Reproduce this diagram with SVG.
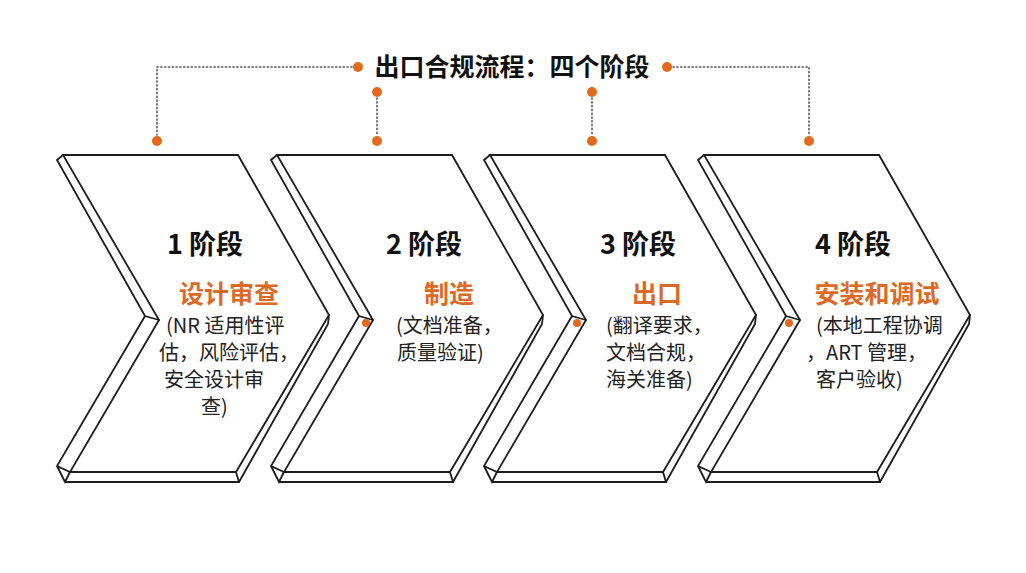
<svg xmlns="http://www.w3.org/2000/svg" width="1026" height="573" viewBox="0 0 1026 573">
<style>
.ln{fill:none;stroke:#1c1c1c;stroke-width:1.8;stroke-linejoin:miter;stroke-linecap:round}
.face{fill:#fff;stroke:#1c1c1c;stroke-width:1.8;stroke-linejoin:miter}
.dot{fill:#E2691E}
.dash{fill:none;stroke:#555;stroke-width:1.6;stroke-dasharray:1.2 2.6;stroke-linecap:round}
.title{font-family:"Noto Sans CJK SC","Noto Sans",sans-serif;font-weight:700;font-size:25px;fill:#111}
.stage{font-family:"Noto Sans CJK SC","Noto Sans",sans-serif;font-weight:700;font-size:27px;fill:#111;text-anchor:middle}
.sub{font-family:"Noto Sans CJK SC","Noto Sans",sans-serif;font-weight:700;font-size:25px;fill:#DB6A27;text-anchor:middle}
.body{font-family:"Noto Sans CJK SC","Noto Sans",sans-serif;font-size:20px;fill:#222}
</style>
<defs>
<g id="chev">
<path class="face" d="M63,155 L238,155 L329,315 L236,472 L70,472 L159,320 Z"/>
<path class="ln" d="M63,155 L57,160 L145,316 L159,320 M145,316 L57,466 L70,472 M57,466 L65,482 L70,472 M65,482 L239,482 L236,472 M329,315 L328,324 L239,482"/>
</g>
</defs>
<rect width="1026" height="573" fill="#fff"/>

<g id="connectors">
<path class="dash" d="M352,67 L157,67 L157,135"/>
<path class="dash" d="M673,67 L809,67 L809,135"/>
<path class="dash" d="M377,98 L377,135"/>
<path class="dash" d="M592,98 L592,135"/>
<circle class="dot" cx="358" cy="67" r="5"/>
<circle class="dot" cx="667" cy="67" r="5"/>
<circle class="dot" cx="157" cy="141" r="5"/>
<circle class="dot" cx="377" cy="92" r="5"/>
<circle class="dot" cx="377" cy="141" r="5"/>
<circle class="dot" cx="592" cy="92" r="5"/>
<circle class="dot" cx="592" cy="141" r="5"/>
<circle class="dot" cx="809" cy="141" r="5"/>
</g>

<g id="title">
<text class="title" x="512" y="76" text-anchor="middle">出口合规流程：四个阶段</text>
</g>

<g id="stage1">
<use href="#chev"/>
<text class="stage" x="205" y="254">1 阶段</text>
<text class="sub" x="229" y="303">设计审查</text>
<text class="body" x="166" y="333">(NR 适用性评</text>
<text class="body" x="159" y="360">估，风险评估，</text>
<text class="body" x="164" y="387">安全设计审</text>
<text class="body" x="201" y="414">查)</text>
</g>

<g id="stage2">
<use href="#chev" transform="translate(214,0)"/>
<circle class="dot" cx="366" cy="323" r="4"/>
<text class="stage" x="424" y="254">2 阶段</text>
<text class="sub" x="449" y="303">制造</text>
<text class="body" x="396" y="333">(文档准备，</text>
<text class="body" x="397" y="360">质量验证)</text>
</g>

<g id="stage3">
<use href="#chev" transform="translate(427,0)"/>
<circle class="dot" cx="577" cy="323" r="4"/>
<text class="stage" x="638" y="254">3 阶段</text>
<text class="sub" x="657" y="303">出口</text>
<text class="body" x="606" y="333">(翻译要求，</text>
<text class="body" x="606" y="360">文档合规，</text>
<text class="body" x="606" y="387">海关准备)</text>
</g>

<g id="stage4">
<use href="#chev" transform="translate(641,0)"/>
<circle class="dot" cx="789" cy="323" r="4"/>
<text class="stage" x="853" y="254">4 阶段</text>
<text class="sub" x="877" y="303">安装和调试</text>
<text class="body" x="816" y="333">(本地工程协调</text>
<text class="body" x="806" y="360">，ART 管理，</text>
<text class="body" x="816" y="387">客户验收)</text>
</g>
</svg>
